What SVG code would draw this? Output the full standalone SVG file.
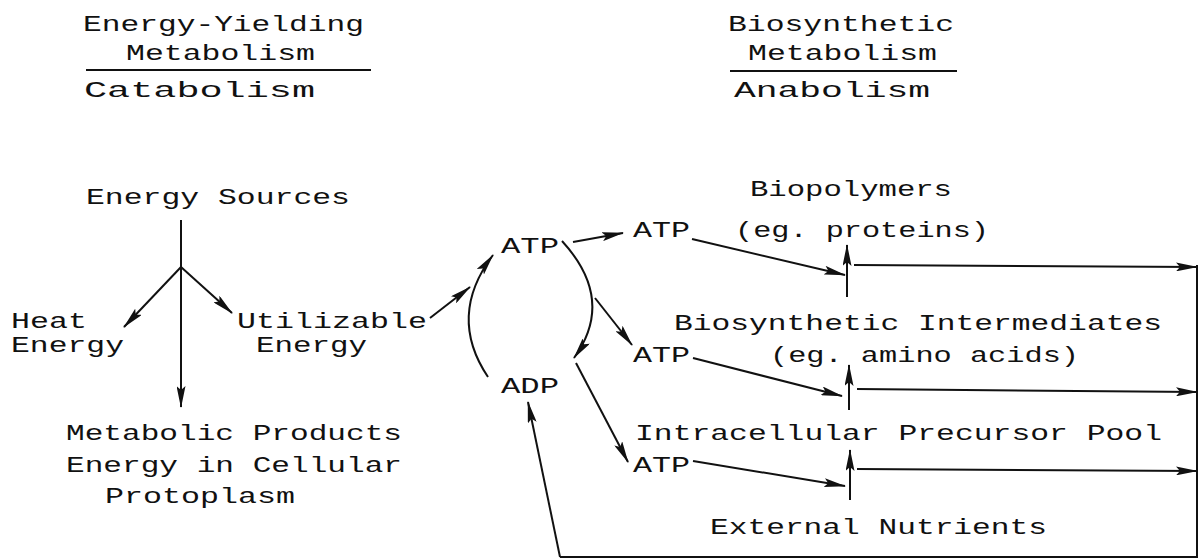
<svg xmlns="http://www.w3.org/2000/svg" width="1202" height="559" viewBox="0 0 1202 559">
<style>
text{font-family:"Liberation Mono","DejaVu Sans Mono",monospace;font-size:22px;fill:#111;transform:scale(1.3,1);transform-origin:0 0}
.ln{fill:none;stroke:#111;stroke-width:2}
.ar{fill:none;stroke:#111;stroke-width:2;marker-end:url(#ah)}
</style>
<defs>
<marker id="ah" viewBox="0 0 22 9" refX="21" refY="4.5" markerWidth="22" markerHeight="9" markerUnits="userSpaceOnUse" orient="auto">
<path d="M0,0 L22,4.5 L0,9 L4,4.5 Z" fill="#111"/>
</marker>
</defs>
<rect width="1202" height="559" fill="#fff"/>
<g id="header-catabolism">
<text x="63.85" y="31" textLength="216.15" lengthAdjust="spacingAndGlyphs">Energy-Yielding</text>
<text x="96.92" y="60" textLength="145.38" lengthAdjust="spacingAndGlyphs">Metabolism</text>
<line class="ln" x1="86" y1="70" x2="371" y2="70"/>
<text x="64.62" y="97" textLength="177.69" lengthAdjust="spacingAndGlyphs">Catabolism</text>
</g>
<g id="header-anabolism">
<text x="560" y="31" textLength="173.85" lengthAdjust="spacingAndGlyphs">Biosynthetic</text>
<text x="575.38" y="60" textLength="145.38" lengthAdjust="spacingAndGlyphs">Metabolism</text>
<line class="ln" x1="730" y1="71" x2="957" y2="71"/>
<text x="564.62" y="97" textLength="150.77" lengthAdjust="spacingAndGlyphs">Anabolism</text>
</g>
<g id="energy-sources"><text x="66.15" y="204" textLength="203.08" lengthAdjust="spacingAndGlyphs">Energy Sources</text></g>
<g id="heat-energy">
<text x="8.46" y="328" textLength="58.46" lengthAdjust="spacingAndGlyphs">Heat</text>
<text x="8.46" y="352" textLength="86.92" lengthAdjust="spacingAndGlyphs">Energy</text>
</g>
<g id="utilizable-energy">
<text x="182.31" y="328" textLength="146.15" lengthAdjust="spacingAndGlyphs">Utilizable</text>
<text x="196.92" y="352" textLength="85.38" lengthAdjust="spacingAndGlyphs">Energy</text>
</g>
<g id="metabolic-products">
<text x="50.77" y="440" textLength="258.46" lengthAdjust="spacingAndGlyphs">Metabolic Products</text>
<text x="50.77" y="472" textLength="258.46" lengthAdjust="spacingAndGlyphs">Energy in Cellular</text>
<text x="80.77" y="503" textLength="146.15" lengthAdjust="spacingAndGlyphs">Protoplasm</text>
</g>
<g id="atp-main"><text x="385.38" y="253" textLength="44.62" lengthAdjust="spacingAndGlyphs">ATP</text></g>
<g id="adp"><text x="385.38" y="393" textLength="44.62" lengthAdjust="spacingAndGlyphs">ADP</text></g>
<g id="atp-1"><text x="486.92" y="237" textLength="43.85" lengthAdjust="spacingAndGlyphs">ATP</text></g>
<g id="atp-2"><text x="486.92" y="362" textLength="43.85" lengthAdjust="spacingAndGlyphs">ATP</text></g>
<g id="atp-3"><text x="486.92" y="472" textLength="43.85" lengthAdjust="spacingAndGlyphs">ATP</text></g>
<g id="biopolymers">
<text x="576.92" y="196" textLength="155.38" lengthAdjust="spacingAndGlyphs">Biopolymers</text>
<text x="565.38" y="237" textLength="195.38" lengthAdjust="spacingAndGlyphs">(eg. proteins)</text>
</g>
<g id="biosynthetic-intermediates">
<text x="518.46" y="330" textLength="375.38" lengthAdjust="spacingAndGlyphs">Biosynthetic Intermediates</text>
<text x="592.31" y="362" textLength="237.69" lengthAdjust="spacingAndGlyphs">(eg. amino acids)</text>
</g>
<g id="precursor-pool"><text x="488.46" y="440" textLength="405.38" lengthAdjust="spacingAndGlyphs">Intracellular Precursor Pool</text></g>
<g id="external-nutrients"><text x="546.15" y="534" textLength="259.23" lengthAdjust="spacingAndGlyphs">External Nutrients</text></g>
<g id="connectors">
<line class="ar" x1="181" y1="220" x2="181" y2="407"/>
<line class="ar" x1="181" y1="267" x2="124" y2="327"/>
<line class="ar" x1="181" y1="267" x2="232" y2="313"/>
<line class="ar" x1="430" y1="318" x2="470" y2="287"/>
<path class="ar" d="M488,377 Q447,316 493,255"/>
<path class="ar" d="M562,241 Q616,300 574,358"/>
<line class="ar" x1="573" y1="242" x2="623" y2="233"/>
<line class="ar" x1="595" y1="298" x2="632" y2="345"/>
<line class="ar" x1="576" y1="363" x2="628" y2="462"/>
<line class="ar" x1="692" y1="239" x2="845" y2="275"/>
<line class="ar" x1="693" y1="358" x2="842" y2="396"/>
<line class="ar" x1="693" y1="461" x2="845" y2="486"/>
<line class="ar" x1="847" y1="297" x2="847" y2="245"/>
<line class="ar" x1="849" y1="410" x2="849" y2="365"/>
<line class="ar" x1="850" y1="500" x2="850" y2="450"/>
<line class="ar" x1="854" y1="265" x2="1197" y2="267"/>
<line class="ar" x1="857" y1="389" x2="1197" y2="392"/>
<line class="ar" x1="857" y1="469" x2="1197" y2="471"/>
<polyline class="ln" points="1197,265 1197,557 560,557"/>
<line class="ar" x1="560" y1="557" x2="528" y2="402"/>
</g>
</svg>
